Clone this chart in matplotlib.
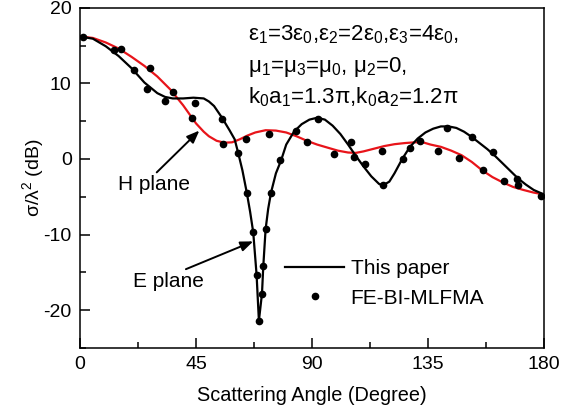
import matplotlib
matplotlib.use("Agg")
import matplotlib.pyplot as plt
from matplotlib.ticker import MultipleLocator

plt.rcParams['font.family'] = ['Liberation Sans', 'DejaVu Sans']
plt.rcParams['mathtext.fontset'] = 'custom'
plt.rcParams['mathtext.rm'] = 'Liberation Sans'
plt.rcParams['mathtext.it'] = 'Liberation Sans:italic'
plt.rcParams['mathtext.bf'] = 'Liberation Sans:bold'
plt.rcParams['axes.unicode_minus'] = False

# E plane (This paper, black)
e_angle = [0, 5, 10, 15, 20, 25, 30, 33, 36, 40, 44, 48, 50, 52, 55, 58, 60, 61.4, 63, 64.7,
           66, 67.2, 68.5, 69.4, 70.6, 71.1, 72, 73, 74.1, 76, 78, 80, 83, 86, 89, 92, 95, 98,
           101, 104, 107, 110, 113, 116, 117.5, 120, 122, 125, 128, 131, 134, 137, 140, 143,
           146, 149, 152, 155, 158, 161, 164, 167, 170, 173, 176, 180]
e_rcs = [16.2, 15.9, 14.9, 13.6, 12.0, 10.1, 8.7, 8.2, 8.0, 8.0, 8.1, 8.0, 7.6, 7.0, 5.5, 3.8,
         2.6, 0.75, -1.5, -4.45, -7.0, -9.7, -15.3, -21.4, -17.8, -14.2, -9.3, -6.6, -4.45,
         -1.9, -0.2, 1.9, 3.6, 4.6, 5.2, 5.45, 5.2, 4.4, 3.3, 1.9, 0.4, -1.0, -2.3, -3.3, -3.5,
         -3.0, -1.9, 0.0, 1.6, 2.7, 3.5, 4.0, 4.3, 4.3, 4.1, 3.6, 2.9, 2.1, 1.3, 0.4, -0.6,
         -1.6, -2.6, -3.4, -4.1, -4.7]

# H plane (This paper, red)
h_angle = [0, 5, 10, 15, 20, 25, 30, 35, 40, 45, 48, 50, 53, 56, 59, 62, 65, 68, 72, 76, 80,
           84, 88, 92, 96, 100, 104, 107, 110, 114, 118, 122, 126, 130, 133, 136, 140, 144,
           148, 152, 156, 160, 164, 168, 172, 176, 180]
h_rcs = [16.2, 16.0, 15.4, 14.6, 13.5, 12.3, 10.9, 9.2, 7.1, 4.7, 3.6, 3.0, 2.4, 2.15, 2.2,
         2.6, 3.1, 3.5, 3.8, 3.75, 3.5, 3.0, 2.4, 1.9, 1.5, 1.1, 0.85, 0.8, 1.0, 1.35, 1.7,
         1.95, 2.1, 2.2, 2.2, 1.9, 1.6, 1.1, 0.5, -0.4, -1.5, -2.4, -3.1, -3.7, -4.1, -4.45,
         -4.7]

# FE-BI-MLFMA reference points
ref_e_angle = [1, 13, 21, 26, 33, 44.6, 55, 61.4, 64.7, 67.2, 68.5, 69.4, 70.6, 71.1, 72, 74.1,
               77.6, 83.7, 92.2, 105.1, 110.5, 117.4, 125.4, 128, 142.5, 152.2, 160.3, 169.7, 179]
ref_e_rcs = [16.1, 14.4, 11.7, 9.3, 7.6, 7.4, 5.3, 0.75, -4.45, -9.7, -15.3, -21.4, -17.8,
             -14.2, -9.3, -4.45, -0.1, 3.7, 5.25, 2.3, -0.7, -3.5, 0.0, 1.5, 4.05, 2.9, 0.95,
             -2.6, -4.9]
ref_h_angle = [16, 27, 36, 43.6, 55.6, 64.3, 73.3, 88.2, 98.6, 106.4, 117, 131.9, 139, 147.1,
               156.4, 164.6, 170]
ref_h_rcs = [14.6, 12.0, 8.8, 5.4, 2.0, 2.7, 3.3, 2.2, 0.6, 0.2, 1.0, 2.4, 1.1, 0.1, -1.45,
             -2.9, -3.5]

fig = plt.figure(figsize=(5.77, 4.11), dpi=100)
ax = fig.add_axes([80/577, 1-348/411, 464/577, 340.3/411])

ax.plot(h_angle, h_rcs, color='#e8141a', lw=1.6, zorder=2)
ax.plot(e_angle, e_rcs, color='black', lw=1.6, zorder=3, label='This paper')
ax.plot(ref_e_angle, ref_e_rcs, 'o', color='black', ms=4.5, zorder=4, label='FE-BI-MLFMA')
ax.plot(ref_h_angle, ref_h_rcs, 'o', color='black', ms=4.5, zorder=4)

ax.set_xlim(0, 180)
ax.set_ylim(-25, 20)
ax.xaxis.set_major_locator(MultipleLocator(45))
ax.xaxis.set_minor_locator(MultipleLocator(22.5))
ax.yaxis.set_major_locator(MultipleLocator(10))
ax.yaxis.set_minor_locator(MultipleLocator(5))
ax.tick_params(which='both', direction='in', top=False, right=False, labelsize=14, width=1.1)
ax.tick_params(which='major', length=7, pad=6)
ax.tick_params(which='minor', length=4)
for s in ax.spines.values():
    s.set_linewidth(1.1)

ax.set_xlabel('Scattering Angle (Degree)', fontsize=14.3, labelpad=9)
ax.set_ylabel('σ/λ$^2$ (dB)', fontsize=14, labelpad=-1.5)

txt_kw = dict(fontsize=16, ha='left', va='center')
ax.text(65.2, 16.4, 'ε$_1$=3ε$_0$,ε$_2$=2ε$_0$,ε$_3$=4ε$_0$,', **txt_kw)
ax.text(65.2, 12.2, 'μ$_1$=μ$_3$=μ$_0$, μ$_2$=0,', **txt_kw)
ax.text(65.2, 8.2, 'k$_0$a$_1$=1.3π,k$_0$a$_2$=1.2π', **txt_kw)

arrow_kw = dict(arrowstyle='-|>,head_length=0.5,head_width=0.2', color='black', lw=1.4,
                shrinkA=0, shrinkB=0)
ax.annotate('H plane', xy=(46.3, 3.75), xytext=(14.7, -3.4), fontsize=15, va='center',
            ha='left', arrowprops=dict(arrow_kw, relpos=(0.5, 1.0)))
ax.annotate('E plane', xy=(67.2, -10.9), xytext=(20.6, -16.2), fontsize=15, va='center',
            ha='left', arrowprops=dict(arrow_kw, relpos=(0.65, 1.0)))

ax.legend(loc='center left', bbox_to_anchor=(0.442, 0.19), frameon=False, fontsize=15,
          handlelength=2.85, handletextpad=0.3, borderpad=0, borderaxespad=0,
          labelspacing=0.5, numpoints=1)

fig.savefig('out.png', dpi=100)
